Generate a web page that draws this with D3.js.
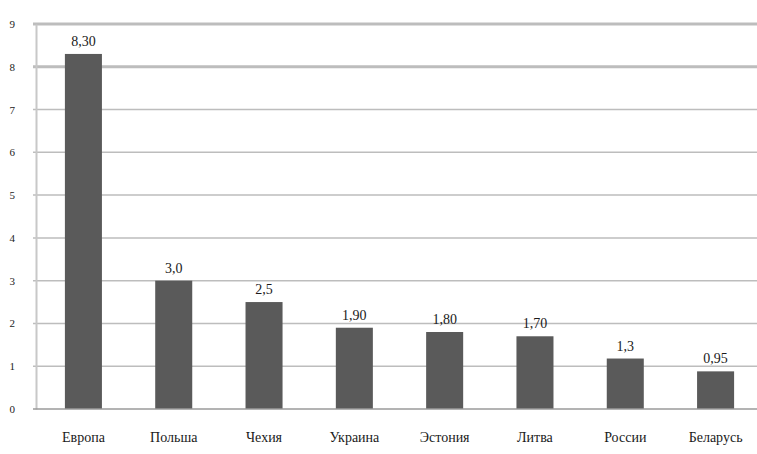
<!DOCTYPE html>
<html>
<head>
<meta charset="utf-8">
<script src="https://cdn.jsdelivr.net/npm/d3@7"></script>
<style>
  body { margin: 0; background: #fff; }
  svg text { font-family: "Liberation Serif", "Times New Roman", "DejaVu Serif", serif !important; }
</style>
</head>
<body>
<div id="chart"></div>
<script>
// data
var countries = ["Европа", "Польша", "Чехия", "Украина", "Эстония", "Литва", "России", "Беларусь"];
var values = [8.3, 3.0, 2.5, 1.9, 1.8, 1.7, 1.18, 0.88];
var valueLabels = ["8,30", "3,0", "2,5", "1,90", "1,80", "1,70", "1,3", "0,95"];
var yTicks = [0, 1, 2, 3, 4, 5, 6, 7, 8, 9];

var width = 757,
    height = 454;

var plotLeft = 36, plotRight = 757, plotTop = 24, plotBottom = 409;

var svg = d3.select("#chart")
    .append("svg")
    .attr("width", width)
    .attr("height", height);

var x = d3.scaleBand()
    .domain(countries)
    .range([plotLeft, plotRight + 6])
    .paddingInner(0.59)
    .paddingOuter(0.32);

var y = d3.scaleLinear()
    .domain([0, 9])
    .range([plotBottom, plotTop]);

// grid lines
svg.append("g")
    .selectAll("line")
    .data(yTicks.filter(d => d > 0))
    .enter()
    .append("line")
    .attr("x1", plotLeft - 3)
    .attr("x2", plotRight)
    .attr("y1", d => y(d))
    .attr("y2", d => y(d))
    .style("stroke", "#bdbdbd")
    .style("stroke-width", d => d >= 8 ? 3 : 1.5);

// y axis
var yAxis = d3.axisLeft(y)
    .tickValues(yTicks)
    .tickSize(0)
    .tickPadding(21)
    .tickFormat(d3.format("d"));

var ya = svg.append("g")
    .attr("transform", "translate(" + plotLeft + ",0)")
    .call(yAxis);
ya.select(".domain").style("stroke", "#c8c8c8").style("stroke-width", 2);
ya.selectAll("text")
    .style("font-size", "11px")
    .style("fill", "#222");

// bars
svg.append("g")
    .selectAll("rect")
    .data(values)
    .enter()
    .append("rect")
    .attr("x", (d, i) => x(countries[i]))
    .attr("width", x.bandwidth())
    .attr("y", d => y(d))
    .attr("height", d => y(0) - y(d))
    .style("fill", "#5a5a5a");

// value labels
svg.append("g")
    .selectAll("text")
    .data(values)
    .enter()
    .append("text")
    .attr("x", (d, i) => x(countries[i]) + x.bandwidth() / 2)
    .attr("y", d => y(d) - 8)
    .attr("text-anchor", "middle")
    .style("font-size", "14px")
    .style("fill", "#1a1a1a")
    .text((d, i) => valueLabels[i]);

// x axis
var xAxis = d3.axisBottom(x).tickSize(0).tickPadding(23);
var xa = svg.append("g")
    .attr("transform", "translate(0," + plotBottom + ")")
    .call(xAxis);
xa.select(".domain").remove();
xa.append("line")
    .attr("x1", plotLeft - 3)
    .attr("x2", plotRight)
    .style("stroke", "#9a9a9a")
    .style("stroke-width", 1.5);
xa.selectAll("text")
    .style("font-size", "14px")
    .style("fill", "#1a1a1a");
</script>
</body>
</html>
